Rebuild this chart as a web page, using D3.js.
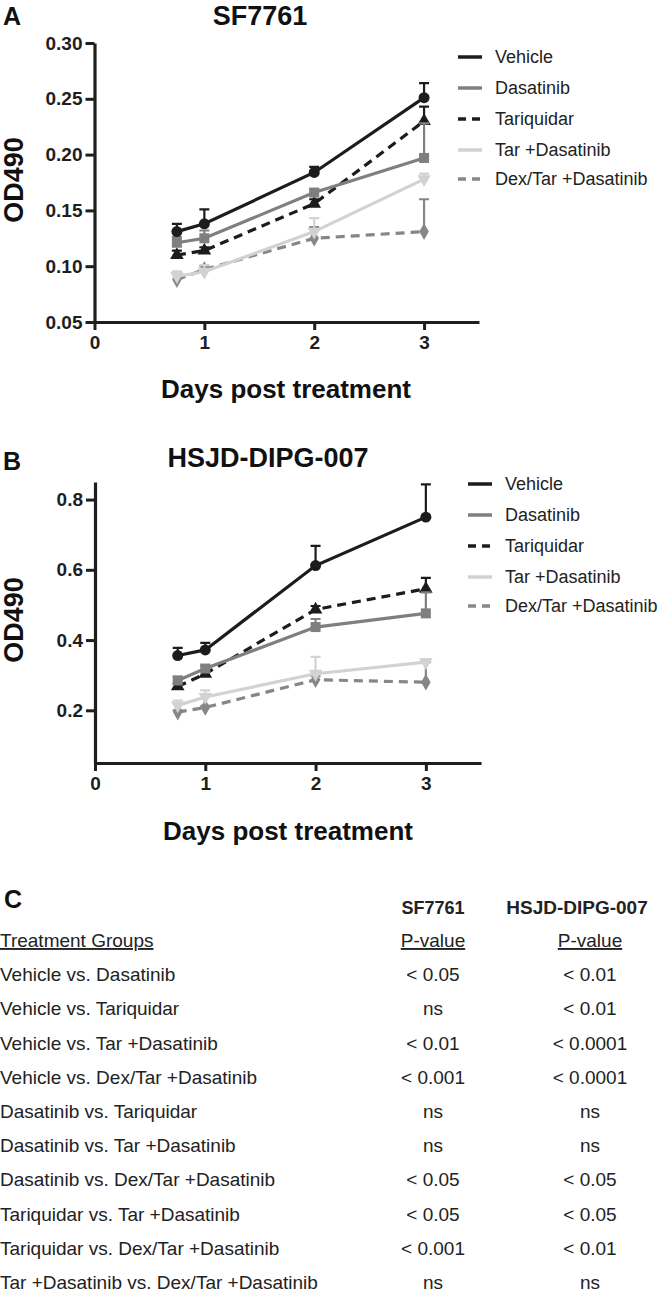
<!DOCTYPE html>
<html>
<head>
<meta charset="utf-8">
<script src="https://cdn.jsdelivr.net/npm/d3@7"></script>
<style>
  body { margin: 0; background: #fff; }
  svg { display: block; font-family: "Liberation Sans", Arial, sans-serif; }
</style>
</head>
<body>
<svg id="canvas"></svg>
<script>
// Time points (days post treatment)
var days = [0.75, 1, 2, 3];
var xTickValues = [0, 1, 2, 3];
var seriesNames = ['Vehicle', 'Dasatinib', 'Tariquidar', 'Tar +Dasatinib', 'Dex/Tar +Dasatinib'];

// SF7761 mean OD490 and upper error
var sfVehicle = [0.131, 0.138, 0.184, 0.251];
var sfVehicleErr = [0.007, 0.013, 0.005, 0.013];
var sfDasatinib = [0.121, 0.125, 0.166, 0.197];
var sfDasatinibErr = [0.005, 0.007, 0.003, 0.031];
var sfTariquidar = [0.110, 0.114, 0.156, 0.230];
var sfTariquidarErr = [0.004, 0.003, 0.004, 0.013];
var sfTarDas = [0.091, 0.095, 0.131, 0.178];
var sfTarDasErr = [0.004, 0.006, 0.012, 0.005];
var sfDexTarDas = [0.088, 0.097, 0.125, 0.131];
var sfDexTarDasErr = [0.007, 0.003, 0.010, 0.029];
var sfYTicks = [0.05, 0.10, 0.15, 0.20, 0.25, 0.30];

// HSJD-DIPG-007 mean OD490 and upper error
var hsVehicle = [0.356, 0.372, 0.612, 0.750];
var hsVehicleErr = [0.022, 0.020, 0.056, 0.093];
var hsDasatinib = [0.285, 0.319, 0.437, 0.476];
var hsDasatinibErr = [0.010, 0.008, 0.023, 0.060];
var hsTariquidar = [0.268, 0.304, 0.487, 0.546];
var hsTariquidarErr = [0.008, 0.008, 0.010, 0.031];
var hsTarDas = [0.214, 0.238, 0.304, 0.337];
var hsTarDasErr = [0.014, 0.019, 0.048, 0.008];
var hsDexTarDas = [0.195, 0.208, 0.287, 0.280];
var hsDexTarDasErr = [0.005, 0.005, 0.010, 0.057];
var hsYTicks = [0.2, 0.4, 0.6, 0.8];

// Table C
var comparisons = [
  'Vehicle vs. Dasatinib',
  'Vehicle vs. Tariquidar',
  'Vehicle vs. Tar +Dasatinib',
  'Vehicle vs. Dex/Tar +Dasatinib',
  'Dasatinib vs. Tariquidar',
  'Dasatinib vs. Tar +Dasatinib',
  'Dasatinib vs. Dex/Tar +Dasatinib',
  'Tariquidar vs. Tar +Dasatinib',
  'Tariquidar vs. Dex/Tar +Dasatinib',
  'Tar +Dasatinib vs. Dex/Tar +Dasatinib'
];
var pValuesSF = ['< 0.05', 'ns', '< 0.01', '< 0.001', 'ns', 'ns', '< 0.05', '< 0.05', '< 0.001', 'ns'];
var pValuesHS = ['< 0.01', '< 0.01', '< 0.0001', '< 0.0001', 'ns', 'ns', '< 0.05', '< 0.05', '< 0.01', 'ns'];

// Line / marker look per series
var styles = [
  { color: '#1c1c1c', dash: null, symbol: d3.symbolCircle, size: 95, rot: 0 },
  { color: '#7f7f7f', dash: null, symbol: d3.symbolSquare, size: 100, rot: 0 },
  { color: '#1c1c1c', dash: '9,6', symbol: d3.symbolTriangle, size: 80, rot: 0 },
  { color: '#d2d2d2', dash: null, symbol: d3.symbolTriangle, size: 80, rot: 180 },
  { color: '#878787', dash: '9,6', symbol: d3.symbolDiamond, size: 80, rot: 0 }
];

var canvasWidth = 661;
var canvasHeight = 1294;
var axisColor = '#1e1e1e';

var svg = d3.select('#canvas')
  .attr('width', canvasWidth)
  .attr('height', canvasHeight);

/**
 * Draws one line panel with axes, error bars and legend.
 */
function drawPanel(p) {
  var x = d3.scaleLinear().domain([0, 3.5]).range([p.left, p.right]);
  var y = d3.scaleLinear().domain(p.yDomain).range([p.bottom, p.top]);
  var g = svg.append('g');

  // Panel letter and title
  g.append('text').attr('x', 3).attr('y', p.letterY)
    .style('font-weight', 'bold').style('font-size', '25px').attr('fill', '#111')
    .text(p.letter);
  g.append('text').attr('x', p.titleX).attr('y', p.titleY)
    .attr('text-anchor', 'middle')
    .style('font-weight', 'bold').style('font-size', '27px').attr('fill', '#111')
    .text(p.title);

  // Axes
  var yAxis = g.append('g')
    .attr('transform', 'translate(' + p.left + ',0)')
    .call(d3.axisLeft(y).tickValues(p.yTicks).tickSize(9).tickSizeOuter(0).tickPadding(3)
      .tickFormat(d3.format(p.yFormat)));
  var xAxis = g.append('g')
    .attr('transform', 'translate(0,' + p.bottom + ')')
    .call(d3.axisBottom(x).tickValues(xTickValues).tickSize(8).tickSizeOuter(0).tickPadding(6)
      .tickFormat(d3.format('d')));
  [yAxis, xAxis].forEach(function(a) {
    a.select('.domain').attr('stroke', axisColor).attr('stroke-width', 3.2);
    a.selectAll('.tick line').attr('stroke', axisColor).attr('stroke-width', 3);
    a.selectAll('.tick text').attr('fill', '#1e1e1e')
      .style('font-weight', 'bold').style('font-size', '19px')
      .style('font-family', '"Liberation Sans", Arial, sans-serif');
  });

  // Axis labels
  g.append('text')
    .attr('transform', 'translate(23,' + p.yLabelY + ') rotate(-90)')
    .attr('text-anchor', 'middle')
    .style('font-weight', 'bold').style('font-size', '27px').attr('fill', '#111')
    .text('OD490');
  g.append('text').attr('x', p.xLabelX).attr('y', p.xLabelY)
    .attr('text-anchor', 'middle')
    .style('font-weight', 'bold').style('font-size', '26px').attr('fill', '#111')
    .text('Days post treatment');

  // Series, drawn last-to-first so Vehicle sits on top
  var line = d3.line()
    .x(function(d) { return x(d.day); })
    .y(function(d) { return y(d.v); });

  for (var s = p.series.length - 1; s >= 0; s--) {
    var st = styles[s];
    var pts = days.map(function(d, i) {
      return { day: d, v: p.series[s][i], e: p.errors[s][i] };
    });
    var sg = g.append('g');

    // upper error bars
    sg.selectAll('.err').data(pts).enter().append('path')
      .attr('d', function(d) {
        var cx = x(d.day), y0 = y(d.v), y1 = y(d.v + d.e);
        return 'M' + cx + ',' + y0 + 'V' + y1 + 'M' + (cx - 5) + ',' + y1 + 'H' + (cx + 5);
      })
      .attr('fill', 'none').attr('stroke', st.color).attr('stroke-width', 2.2);

    sg.append('path').datum(pts)
      .attr('d', line)
      .attr('fill', 'none').attr('stroke', st.color).attr('stroke-width', 3.2)
      .attr('stroke-dasharray', st.dash);

    sg.selectAll('.mk').data(pts).enter().append('path')
      .attr('d', d3.symbol().type(st.symbol).size(st.size))
      .attr('transform', function(d) {
        return 'translate(' + x(d.day) + ',' + y(d.v) + ') rotate(' + st.rot + ')';
      })
      .attr('fill', st.color);
  }

  // Legend
  var lg = g.append('g');
  seriesNames.forEach(function(name, i) {
    lg.append('line')
      .attr('x1', p.legendX).attr('x2', p.legendX + 24)
      .attr('y1', p.legendY[i]).attr('y2', p.legendY[i])
      .attr('stroke', styles[i].color).attr('stroke-width', 3.5)
      .attr('stroke-dasharray', styles[i].dash ? '8,6' : null);
    lg.append('text')
      .attr('x', p.legendX + 37).attr('y', p.legendY[i]).attr('dy', '0.35em')
      .style('font-size', '18px').attr('fill', '#222')
      .text(name);
  });
}

drawPanel({
  letter: 'A', letterY: 25, title: 'SF7761', titleX: 260, titleY: 25,
  left: 94.5, right: 479, top: 43, bottom: 322,
  yDomain: [0.05, 0.30], yTicks: sfYTicks, yFormat: '.2f',
  yLabelY: 180, xLabelX: 286, xLabelY: 398,
  legendX: 458, legendY: [57, 88, 119, 150, 179],
  series: [sfVehicle, sfDasatinib, sfTariquidar, sfTarDas, sfDexTarDas],
  errors: [sfVehicleErr, sfDasatinibErr, sfTariquidarErr, sfTarDasErr, sfDexTarDasErr]
});

drawPanel({
  letter: 'B', letterY: 470, title: 'HSJD-DIPG-007', titleX: 268, titleY: 467,
  left: 95, right: 481, top: 482, bottom: 763,
  yDomain: [0.05, 0.85], yTicks: hsYTicks, yFormat: '.1f',
  yLabelY: 620, xLabelX: 288, xLabelY: 840,
  legendX: 468, legendY: [484, 515, 546, 577, 606],
  series: [hsVehicle, hsDasatinib, hsTariquidar, hsTarDas, hsDexTarDas],
  errors: [hsVehicleErr, hsDasatinibErr, hsTariquidarErr, hsTarDasErr, hsDexTarDasErr]
});

/**
 * Draws the p-value table (panel C).
 */
function drawTable() {
  var rowStep = 34.2;
  var firstRow = 947;
  var col1 = 433, col2 = 590;
  var fs = '19px';
  var t = svg.append('g').attr('fill', '#222');

  t.append('text').attr('x', 4).attr('y', 908)
    .style('font-weight', 'bold').style('font-size', '25px').attr('fill', '#111')
    .text('C');
  t.append('text').attr('x', col1).attr('y', 914).attr('text-anchor', 'middle')
    .style('font-weight', 'bold').style('font-size', '18px').text('SF7761');
  t.append('text').attr('x', 577).attr('y', 914).attr('text-anchor', 'middle')
    .style('font-weight', 'bold').style('font-size', '19px').text('HSJD-DIPG-007');

  t.append('text').attr('x', 0).attr('y', firstRow)
    .style('font-size', fs).style('text-decoration', 'underline')
    .text('Treatment Groups');
  [col1, col2].forEach(function(cx) {
    t.append('text').attr('x', cx).attr('y', firstRow).attr('text-anchor', 'middle')
      .style('font-size', fs).style('text-decoration', 'underline')
      .text('P-value');
  });

  var rows = t.selectAll('.row').data(comparisons).enter().append('g')
    .attr('transform', function(d, i) {
      return 'translate(0,' + (firstRow + (i + 1) * rowStep) + ')';
    });
  rows.append('text').attr('x', 0).style('font-size', fs)
    .text(function(d) { return d; });
  rows.append('text').attr('x', col1).attr('text-anchor', 'middle').style('font-size', fs)
    .text(function(d, i) { return pValuesSF[i]; });
  rows.append('text').attr('x', col2).attr('text-anchor', 'middle').style('font-size', fs)
    .text(function(d, i) { return pValuesHS[i]; });
}

drawTable();
</script>
</body>
</html>
